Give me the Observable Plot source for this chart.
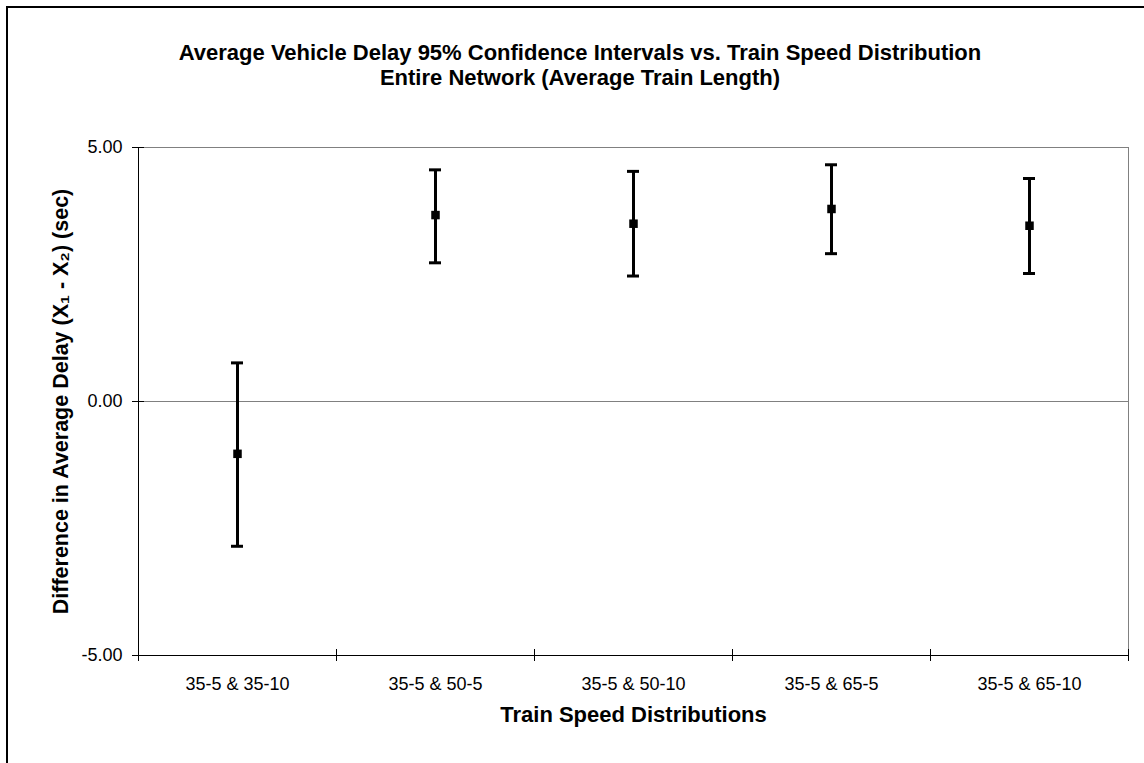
<!DOCTYPE html>
<html><head><meta charset="utf-8">
<script src="https://cdn.jsdelivr.net/npm/d3@7"></script>
<script src="https://cdn.jsdelivr.net/npm/@observablehq/plot@0.6"></script>
<style>
body{margin:0;background:#fff;}
#wrap{position:relative;width:1144px;height:763px;overflow:hidden;font-family:"Liberation Sans",Arial,sans-serif;background:#fff;}
#frame{position:absolute;left:6px;top:6px;width:1200px;height:800px;border-left:2px solid #000;border-top:2px solid #000;}
#chart{position:absolute;left:0;top:0;}
#title{position:absolute;left:0;width:1160px;top:40px;text-align:center;font-weight:bold;font-size:22px;line-height:25px;color:#000;}
</style></head><body>
<div id="wrap"><div id="frame"></div><div id="chart"></div><div id="title"></div></div>
<script>
const titleLines = ["Average Vehicle Delay 95% Confidence Intervals vs. Train Speed Distribution", "Entire Network (Average Train Length)"];
const categories = ["35-5 & 35-10", "35-5 & 50-5", "35-5 & 50-10", "35-5 & 65-5", "35-5 & 65-10"];
const means = [-1.03, 3.67, 3.50, 3.79, 3.46];
const lower = [-2.85, 2.73, 2.47, 2.91, 2.52];
const upper = [0.76, 4.56, 4.53, 4.66, 4.39];
const yTicks = [-5, 0, 5];
const xTitle = "Train Speed Distributions";
const yTitle = "Difference in Average Delay (X\u2081 - X\u2082) (sec)";

const data = categories.map((c, i) => ({cat: c, pos: i + 0.5, mean: means[i], lo: lower[i], hi: upper[i]}));
const bounds = d3.range(categories.length + 1);

document.getElementById("title").innerHTML = titleLines.join("<br>");

const chart = Plot.plot({
  width: 1144, height: 763,
  marginLeft: 138, marginRight: 16, marginTop: 147, marginBottom: 108,
  style: {fontFamily: '"Liberation Sans", Arial, sans-serif', fontSize: "18px", color: "#000", background: "transparent"},
  x: {type: "linear", domain: [0, categories.length], axis: null},
  y: {domain: [-5, 5], axis: null},
  marks: [
    Plot.ruleY(yTicks.filter(d => d > -5), {y: d => d, stroke: "#808080", strokeWidth: 1}),
    Plot.ruleX([categories.length], {x: d => d, stroke: "#808080", strokeWidth: 1}),
    Plot.ruleX([0], {x: d => d, stroke: "#000", strokeWidth: 1}),
    Plot.ruleY([-5], {y: d => d, stroke: "#000", strokeWidth: 1}),
    Plot.ruleY(yTicks, {y: d => d, x1: 0, x2: 0, insetLeft: -6, insetRight: -6, stroke: "#000"}),
    Plot.text(yTicks, {y: d => d, x: 0, text: d => d.toFixed(2), textAnchor: "end", dx: -16, fontSize: 18, fill: "#000"}),
    Plot.ruleX(bounds, {x: d => d, y1: -5, y2: -5, insetTop: -6, insetBottom: -6, stroke: "#000"}),
    Plot.text(data, {x: "pos", y: -5, text: "cat", dy: 29, fontSize: 18, fill: "#000"}),
    Plot.text([xTitle], {frameAnchor: "bottom", dy: 66, fontWeight: "bold", fontSize: 22, fill: "#000"}),
    Plot.text([yTitle], {frameAnchor: "left", textAnchor: "middle", rotate: -90, dx: -77, fontWeight: "bold", fontSize: 21.5, fill: "#000"}),
    Plot.ruleX(data, {x: "pos", y1: "lo", y2: "hi", stroke: "#000", strokeWidth: 3}),
    Plot.ruleY(data, {y: "hi", x1: "pos", x2: "pos", insetLeft: -6, insetRight: -6, stroke: "#000", strokeWidth: 3}),
    Plot.ruleY(data, {y: "lo", x1: "pos", x2: "pos", insetLeft: -6, insetRight: -6, stroke: "#000", strokeWidth: 3}),
    Plot.dot(data, {x: "pos", y: "mean", symbol: "square", r: 4.8, fill: "#000", stroke: null})
  ]
});
document.getElementById("chart").appendChild(chart);
</script>
</body></html>
